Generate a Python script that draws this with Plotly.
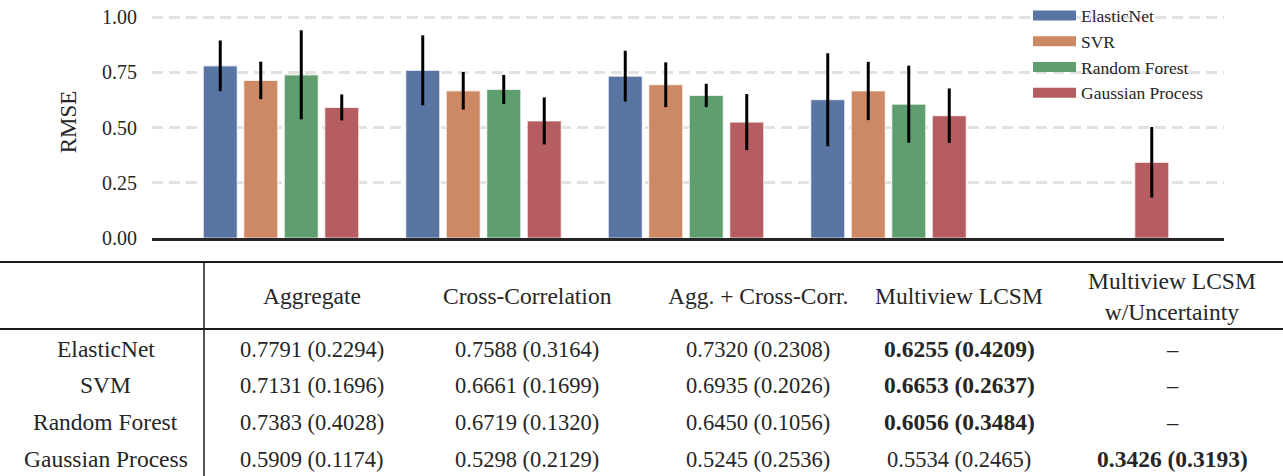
import plotly.graph_objects as go

# ---------------- data ----------------
categories = ["Aggregate", "Cross-Correlation", "Agg. + Cross-Corr.",
              "Multiview LCSM", "Multiview LCSM<br>w/Uncertainty"]
legend_names = ["ElasticNet", "SVR", "Random Forest", "Gaussian Process"]
table_rows = ["ElasticNet", "SVM", "Random Forest", "Gaussian Process"]

elasticnet_mean = [0.7791, 0.7588, 0.7320, 0.6255, None]
elasticnet_sd = [0.2294, 0.3164, 0.2308, 0.4209, None]
svr_mean = [0.7131, 0.6661, 0.6935, 0.6653, None]
svr_sd = [0.1696, 0.1699, 0.2026, 0.2637, None]
rf_mean = [0.7383, 0.6719, 0.6450, 0.6056, None]
rf_sd = [0.4028, 0.1320, 0.1056, 0.3484, None]
gp_mean = [0.5909, 0.5298, 0.5245, 0.5534, 0.3426]
gp_sd = [0.1174, 0.2129, 0.2536, 0.2465, 0.3193]

y_ticks = [0.0, 0.25, 0.5, 0.75, 1.0]

means = [elasticnet_mean, svr_mean, rf_mean, gp_mean]
sds = [elasticnet_sd, svr_sd, rf_sd, gp_sd]

# ---------------- style ----------------
colors = ["#5875A4", "#CC8963", "#5F9E6E", "#B55D60"]
FONT = "Liberation Serif"
W, H = 1283, 476
TXT = "#262626"


def px_x(p):
    return p / W


def px_y(p):
    return 1 - p / H


fig = go.Figure()

for name, m, s, c in zip(legend_names, means, sds, colors):
    err = [v / 2 if v is not None else 0 for v in s]
    fig.add_trace(go.Bar(
        x=categories, y=m, name=name, showlegend=False,
        marker=dict(color=c, line=dict(color="rgba(255,255,255,0.7)", width=1.2)),
        error_y=dict(type="data", array=err, color="black", thickness=3, width=0),
    ))

# legend entries (wide swatches like the original)
for name, c in zip(legend_names, colors):
    fig.add_trace(go.Scatter(x=[None], y=[None], mode="lines", name=name,
                             line=dict(color=c, width=10), showlegend=True))

# ---------------- axes ----------------
x_left, x_right = 152, 1224
y_top, y_bottom = 6, 238
cat_c0, cat_step = 281, 202.5
ymax = (y_bottom - y_top) / 221.0

fig.update_layout(
    width=W, height=H,
    margin=dict(l=0, r=0, t=0, b=0, autoexpand=False),
    paper_bgcolor="white", plot_bgcolor="white",
    barmode="group", bargap=0.2, bargroupgap=0.16,
    font=dict(family=FONT, color=TXT),
    xaxis=dict(
        domain=[px_x(x_left), px_x(x_right)],
        range=[(x_left - cat_c0) / cat_step, (x_right - cat_c0) / cat_step],
        showticklabels=False, ticks="", showgrid=False, zeroline=False,
        showline=True, linecolor="#262626", linewidth=3,
    ),
    yaxis=dict(
        domain=[px_y(y_bottom), px_y(y_top)],
        range=[0, ymax],
        tickvals=y_ticks, ticktext=[f"{v:.2f}" for v in y_ticks],
        tickfont=dict(size=20, family=FONT, color=TXT),
        ticklabelstandoff=14,
        showgrid=True, gridcolor="#e2e2e2", gridwidth=2.5, griddash="11px,6px",
        zeroline=False, showline=False, ticks="",
        title=dict(text="RMSE", font=dict(size=23, family=FONT, color=TXT), standoff=18),
    ),
    legend=dict(
        x=px_x(1028), y=px_y(-2.5), xanchor="left", yanchor="top",
        bgcolor="rgba(0,0,0,0)", borderwidth=0,
        font=dict(size=17.5, family=FONT, color=TXT),
        tracegroupgap=0, itemwidth=43,
    ),
)

# ---------------- table ----------------
col_x = [106, 312, 527, 758, 959, 1172]
row_y = [349, 385, 422, 459]
header_y = 296
LBL = 23.5
NUM = 22.5
BOLD = 23.5

shapes = [
    dict(type="line", xref="paper", yref="paper", x0=0, x1=1, y0=px_y(262), y1=px_y(262),
         line=dict(color="#1a1a1a", width=2)),
    dict(type="line", xref="paper", yref="paper", x0=0, x1=1, y0=px_y(329), y1=px_y(329),
         line=dict(color="#1a1a1a", width=2)),
    dict(type="line", xref="paper", yref="paper", x0=px_x(204), x1=px_x(204), y0=px_y(262), y1=0,
         line=dict(color="#1a1a1a", width=1.5)),
]

annotations = []
for j, cat in enumerate(categories):
    annotations.append(dict(text=cat, x=px_x(col_x[j + 1]), y=px_y(header_y),
                            xref="paper", yref="paper", xanchor="center", yanchor="middle",
                            showarrow=False, font=dict(size=LBL, family=FONT, color=TXT)))

for i, rname in enumerate(table_rows):
    annotations.append(dict(text=rname, x=px_x(col_x[0]), y=px_y(row_y[i]),
                            xref="paper", yref="paper", xanchor="center", yanchor="middle",
                            showarrow=False, font=dict(size=LBL, family=FONT, color=TXT)))
    vals = [v for v in means[i] if v is not None]
    best = min(vals)
    for j in range(len(categories)):
        m, s = means[i][j], sds[i][j]
        size = NUM
        if m is None:
            txt = "–"
        else:
            txt = f"{m:.4f} ({s:.4f})"
            if m == best:
                txt = f"<b>{txt}</b>"
                size = BOLD
        annotations.append(dict(text=txt, x=px_x(col_x[j + 1]), y=px_y(row_y[i]),
                                xref="paper", yref="paper", xanchor="center", yanchor="middle",
                                showarrow=False, font=dict(size=size, family=FONT, color=TXT)))

fig.update_layout(shapes=shapes, annotations=annotations)

fig.write_html("out.html")
